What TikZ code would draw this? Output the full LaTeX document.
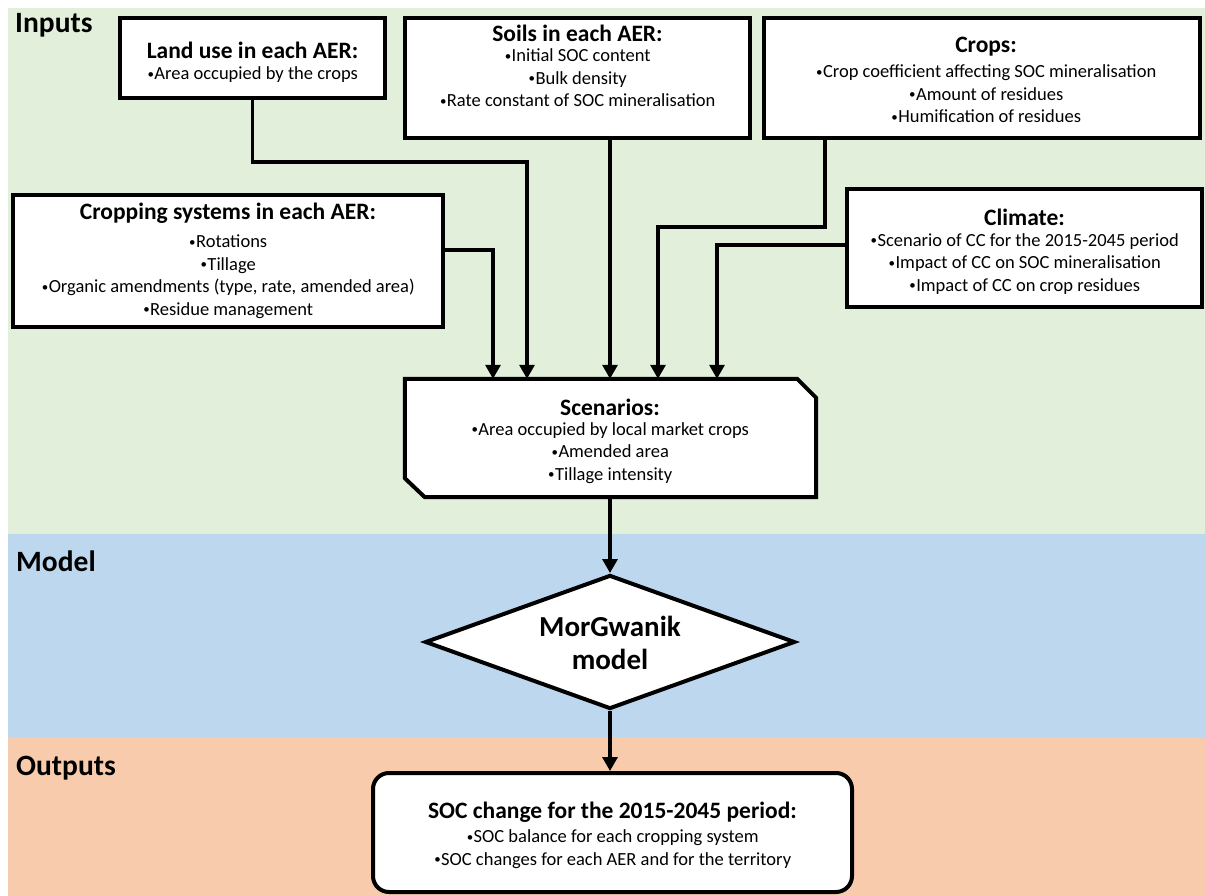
\documentclass[tikz,border=0pt]{standalone}
\usepackage{fontspec}
\setmainfont{Carlito}
\usetikzlibrary{arrows.meta,shapes.geometric}
\definecolor{bgreen}{HTML}{E2EFDA}
\definecolor{bblue}{HTML}{BDD7EE}
\definecolor{borange}{HTML}{F8CBAD}
\newcommand\bl{\makebox[0.8\fontcharwd\font"2022][c]{\raisebox{0.08em}{\scalebox{0.7}{•}}}}
\tikzset{
  box/.style={draw=black, line width=4pt, fill=white, inner sep=0pt},
  ttl/.style={font=\fontsize{23.5}{27}\selectfont\bfseries, inner sep=0pt},
  bdy/.style={font=\fontsize{18.5}{22.5}\selectfont, align=center, inner sep=0pt},
  lbl/.style={font=\fontsize{29.5}{32}\selectfont\bfseries, inner sep=0pt, anchor=base west},
  arr/.style={line width=3.2pt, -{Triangle[length=14pt,width=15pt]}}
}
\begin{document}
\begin{tikzpicture}[x=1pt,y=-1pt]
\useasboundingbox (0,0) rectangle (1205,896);
\fill[white] (0,0) rectangle (1205,896);
\fill[bgreen] (8,8) rectangle (1205,534);
\fill[bblue] (8,534) rectangle (1205,737);
\fill[borange] (8,737) rectangle (1205,896);

\node[lbl] (linputs) at (15,33) {Inputs};
\node[lbl] (lmodel) at (16,571) {Model};
\node[lbl] (loutputs) at (16,775) {Outputs};

% boxes
\node[box, minimum width=265pt, minimum height=80pt] (land) at (252.5,58) {};
\node[box, minimum width=345pt, minimum height=120pt] (soils) at (577.5,78) {};
\node[box, minimum width=436pt, minimum height=120pt] (crops) at (982,78) {};
\node[box, minimum width=430pt, minimum height=132pt] (csys) at (228,261) {};
\node[box, minimum width=355pt, minimum height=118pt] (clim) at (1024.5,248) {};

% scenarios box (cut corners)
\node[draw=none, minimum width=411pt, minimum height=118pt, inner sep=0pt] (scen) at (610.5,438) {};
\filldraw[fill=white, draw=black, line width=4pt, line join=miter]
  (scen.north west) -- ([xshift=-19pt]scen.north east) -- ([yshift=-19pt]scen.north east)
  -- (scen.south east) -- ([xshift=20pt]scen.south west) -- ([yshift=19pt]scen.south west) -- cycle;

% model diamond
\node[diamond, draw=black, fill=white, line width=4pt, minimum width=370pt, minimum height=134pt, inner sep=0pt, aspect=2.76] (model) at (610,642) {};

% outputs box
\node[box, rounded corners=16pt, minimum width=479pt, minimum height=119pt] (out) at (612.5,832.5) {};

% texts
\node[ttl] (landt) at (252.5,50) {Land use in each AER:};
\node[bdy] (landb) at (252.5,75) {\bl Area occupied by the crops};

\node[ttl] (soilst) at (577.5,33) {Soils in each AER:};
\node[bdy] (soilsb) at (577.5,78) {\bl Initial SOC content\\\bl Bulk density\\\bl Rate constant of SOC mineralisation};

\node[ttl] (cropst) at (986,47) {Crops:};
\node[bdy] (cropsb) at (986,94) {\bl Crop coefficient affecting SOC mineralisation\\\bl Amount of residues\\\bl Humification of residues};

\node[ttl] (csyst) at (228,213) {Cropping systems in each AER:};
\node[bdy] (csysb) at (228,276.5) {\bl Rotations\\\bl Tillage\\\bl Organic amendments (type, rate, amended area)\\\bl Residue management};

\node[ttl] (climt) at (1024.5,217) {Climate:};
\node[bdy] (climb) at (1024.5,264) {\bl Scenario of CC for the 2015-2045 period\\\bl Impact of CC on SOC mineralisation\\\bl Impact of CC on crop residues};

\node[ttl] (scent) at (610,407) {Scenarios:};
\node[bdy] (scenb) at (610,453) {\bl Area occupied by local market crops\\\bl Amended area\\\bl Tillage intensity};

\node[font=\fontsize{29}{33}\selectfont\bfseries, align=center, inner sep=0pt] (modelt) at (610,643) {MorGwanik\\model};

\node[ttl] (outt) at (612.5,812) {SOC change for the 2015-2045 period:};
\node[bdy] (outb) at (612.5,849) {\bl SOC balance for each cropping system\\\bl SOC changes for each AER and for the territory};

% connectors
\draw[arr] (land.south) -- ++(0,62) -| (527,0 |- scen.north);
\draw[arr] (610,0 |- soils.south) -- (610,0 |- scen.north);
\draw[arr] (825,0 |- crops.south) -- (825,227) -| (658,0 |- scen.north);
\draw[arr] ([yshift=11pt]csys.east) -| (493,0 |- scen.north);
\draw[arr] ([yshift=3pt]clim.west) -| (717,0 |- scen.north);
\draw[arr] (610,0 |- scen.south) -- (model.north);
\draw[arr] (model.south) -- (610,0 |- out.north);
\end{tikzpicture}
\end{document}
